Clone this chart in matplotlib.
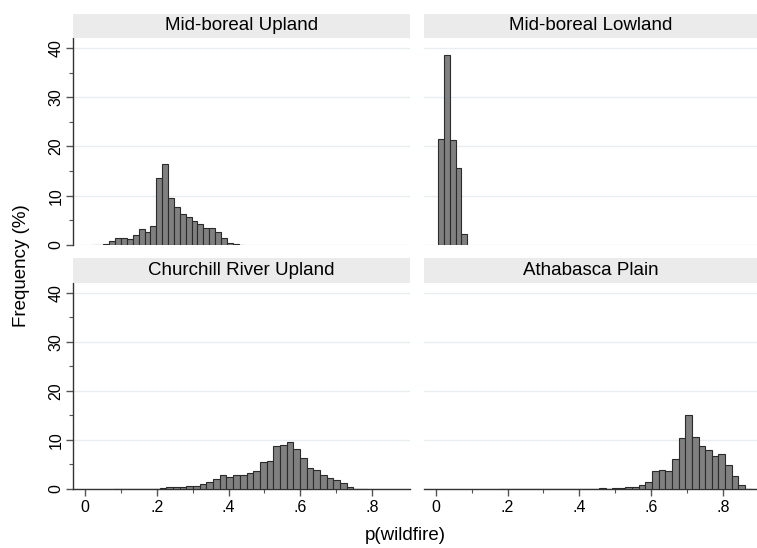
import numpy as np
import matplotlib
matplotlib.use("Agg")
import matplotlib.pyplot as plt
from matplotlib.ticker import FixedLocator

plt.rcParams["font.family"] = ["Liberation Sans", "DejaVu Sans"]

# histogram bins: start, width, percent per bin
upland_start, upland_width = 0.019, 0.01635
upland_freq = [0.05, 0.1, 0.27, 0.75, 1.36, 1.36, 1.22, 1.97, 3.33, 2.72, 3.95,
               13.5, 16.5, 9.46, 7.76, 6.33, 5.71, 4.83, 4.35, 3.54, 3.54, 2.72,
               1.5, 0.48, 0.2, 0.07]

lowland_start, lowland_width = 0.0064, 0.01625
lowland_freq = [21.6, 38.5, 21.3, 15.7, 2.27]

churchill_start, churchill_width = 0.078, 0.0186
churchill_freq = [0.05, 0.05, 0.05, 0.05, 0.05, 0.05, 0.08, 0.2, 0.35, 0.4, 0.4,
                  0.6, 0.6, 1.1, 1.5, 2.05, 2.8, 2.46, 2.94, 2.8, 3.28, 3.7, 5.47,
                  5.74, 8.8, 8.97, 9.5, 8.2, 6.37, 4.3, 3.97, 2.94, 2.26, 1.85,
                  1.3, 0.48, 0.05, 0.02]

athabasca_start, athabasca_width = 0.177, 0.0185
athabasca_freq = [0.05] * 15 + [0.2, 0.05, 0.12, 0.15, 0.4, 0.4, 0.75, 1.5, 3.7,
                                3.9, 3.7, 6.2, 10.3, 15.06, 10.7, 8.7, 7.94, 6.78,
                                7.05, 4.86, 2.74, 0.82, 0.1]

titles = ["Mid-boreal Upland", "Mid-boreal Lowland",
          "Churchill River Upland", "Athabasca Plain"]
y_ticks = [0, 10, 20, 30, 40]
y_minor = [5, 15, 25, 35]
x_ticks = [0, 0.2, 0.4, 0.6, 0.8]
x_tick_labels = ["0", ".2", ".4", ".6", ".8"]
x_minor = [0.1, 0.3, 0.5, 0.7]

W, H = 757, 548
fig = plt.figure(figsize=(W / 100, H / 100), dpi=100)


def px_axes(x0, y0, x1, y1):
    return fig.add_axes([x0 / W, 1 - y1 / H, (x1 - x0) / W, (y1 - y0) / H])


panels = [
    # (plot box, strip box, data, left col, bottom row, xlim right)
    ((73, 38, 410, 245), (73, 14, 410, 38), (upland_start, upland_width, upland_freq), True, False, 0.905),
    ((424, 38, 757, 245), (424, 14, 757, 38), (lowland_start, lowland_width, lowland_freq), False, False, 0.895),
    ((73, 283, 410, 489), (73, 258, 410, 283), (churchill_start, churchill_width, churchill_freq), True, True, 0.905),
    ((424, 283, 757, 489), (424, 258, 757, 283), (athabasca_start, athabasca_width, athabasca_freq), False, True, 0.895),
]

grid_col = "#e6eef0"
axis_col = "#333333"

for (box, sbox, (start, width, freq), left, bottom, xr), title in zip(panels, titles):
    ax = px_axes(*box)
    edges = start + width * np.arange(len(freq))
    ax.bar(edges, freq, width=width, align="edge", color="#808080",
           edgecolor="#2b2b2b", linewidth=0.8, zorder=3)
    ax.set_xlim(-0.033, xr)
    ax.set_ylim(0, 42)
    for v in y_ticks:
        ax.axhline(v, color=grid_col, linewidth=1.0, zorder=1)
    for s in ["top", "right"]:
        ax.spines[s].set_visible(False)
    ax.spines["left"].set_visible(left)
    ax.spines["bottom"].set_visible(bottom)
    ax.spines["left"].set_color(axis_col)
    ax.spines["bottom"].set_color(axis_col)
    ax.spines["left"].set_linewidth(1.0)
    ax.spines["bottom"].set_linewidth(1.0)

    ax.set_yticks(y_ticks)
    ax.yaxis.set_minor_locator(FixedLocator(y_minor))
    ax.set_xticks(x_ticks)
    ax.set_xticklabels(x_tick_labels)
    ax.xaxis.set_minor_locator(FixedLocator(x_minor))
    if left:
        ax.set_yticklabels([str(v) for v in y_ticks], rotation=90, va="center")
        ax.tick_params(axis="y", which="major", length=5, width=1.0,
                       color="#555555", labelsize=11.5, pad=2)
        ax.tick_params(axis="y", which="minor", length=3, width=0.8,
                       color="#555555")
    else:
        ax.tick_params(axis="y", which="both", left=False, labelleft=False)
    if bottom:
        ax.tick_params(axis="x", which="major", length=5, width=1.0,
                       color="#555555", labelsize=11.5, pad=3)
        ax.tick_params(axis="x", which="minor", length=3, width=0.8,
                       color="#555555")
    else:
        ax.tick_params(axis="x", which="both", bottom=False, labelbottom=False)

    sax = px_axes(*sbox)
    sax.set_facecolor("#ebebeb")
    sax.set_xticks([])
    sax.set_yticks([])
    for s in sax.spines.values():
        s.set_visible(False)
    sax.text(0.5, 0.5, title, ha="center", va="center", fontsize=13.5,
             transform=sax.transAxes)

fig.text(22 / W, 1 - 266 / H, "Frequency (%)", rotation=90, ha="center",
         va="center", fontsize=13.5)
fig.text(405 / W, 1 - 536 / H, "p(wildfire)", ha="center", va="center",
         fontsize=13.5)

fig.savefig("out.png", dpi=100, facecolor="white")
